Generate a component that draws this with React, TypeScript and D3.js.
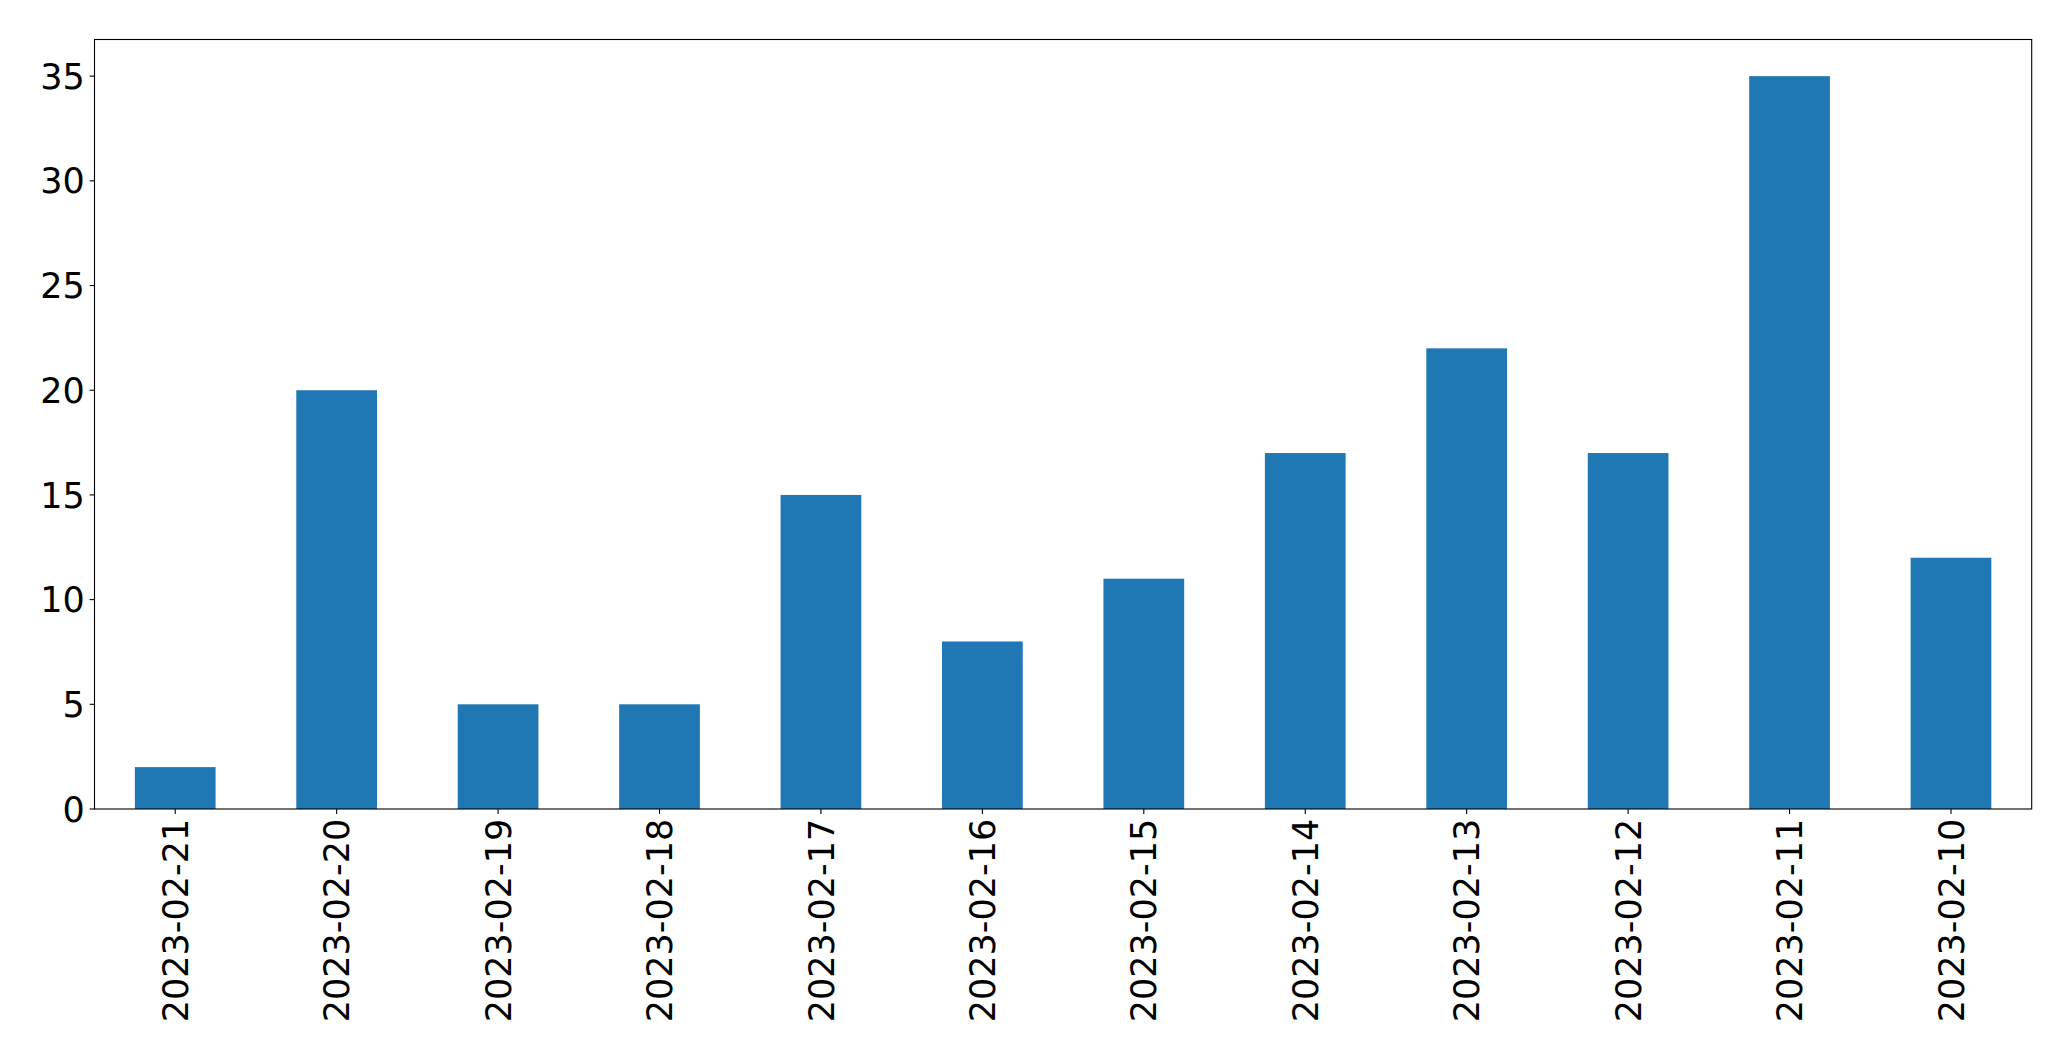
import React from "react";
import * as d3 from "d3";

const categories = [
  "2023-02-21", "2023-02-20", "2023-02-19", "2023-02-18", "2023-02-17", "2023-02-16",
  "2023-02-15", "2023-02-14", "2023-02-13", "2023-02-12", "2023-02-11", "2023-02-10",
];
const values = [2, 20, 5, 5, 15, 8, 11, 17, 22, 17, 35, 12];
const yTicks = [0, 5, 10, 15, 20, 25, 30, 35];

const W = 2071;
const H = 1061;
const left = 94.5;
const right = 2031.7;
const top = 39.5;
const bottom = 809;
const FONT = "'DejaVu Sans', sans-serif";
const FS = 35;

export default function App() {
  const x = d3.scaleBand<string>().domain(categories).range([left, right]).paddingInner(0.5).paddingOuter(0.25);
  const yMax = d3.max(values)! * 1.05;
  const y = d3.scaleLinear().domain([0, yMax]).range([bottom, top]);
  return (
    <svg width={W} height={H} style={{ position: "absolute", left: 0, top: 0, background: "#fff" }}>
      <rect x={0} y={0} width={W} height={H} fill="#fff" />
      {values.map((v, i) => (
        <rect key={i} x={x(categories[i])} y={y(v)} width={x.bandwidth()} height={y(0) - y(v)} fill="#1f77b4" />
      ))}
      <rect x={left} y={top} width={right - left} height={bottom - top} fill="none" stroke="#000" strokeWidth={1.1} />
      {yTicks.map((t) => (
        <g key={t}>
          <line x1={left - 4.9} x2={left} y1={y(t)} y2={y(t)} stroke="#000" strokeWidth={1.1} />
          <text x={left - 9.8} y={y(t)} dy="0.36em" textAnchor="end" fontFamily={FONT} fontSize={FS} fill="#000">
            {t}
          </text>
        </g>
      ))}
      {categories.map((c) => {
        const cx = x(c)! + x.bandwidth() / 2;
        return (
          <g key={c}>
            <line x1={cx} x2={cx} y1={bottom} y2={bottom + 4.9} stroke="#000" strokeWidth={1.1} />
            <text
              transform={`translate(${cx},${bottom + 9.8}) rotate(-90)`}
              dy="0.36em"
              textAnchor="end"
              fontFamily={FONT}
              fontSize={FS}
              fill="#000"
            >
              {c}
            </text>
          </g>
        );
      })}
    </svg>
  );
}
